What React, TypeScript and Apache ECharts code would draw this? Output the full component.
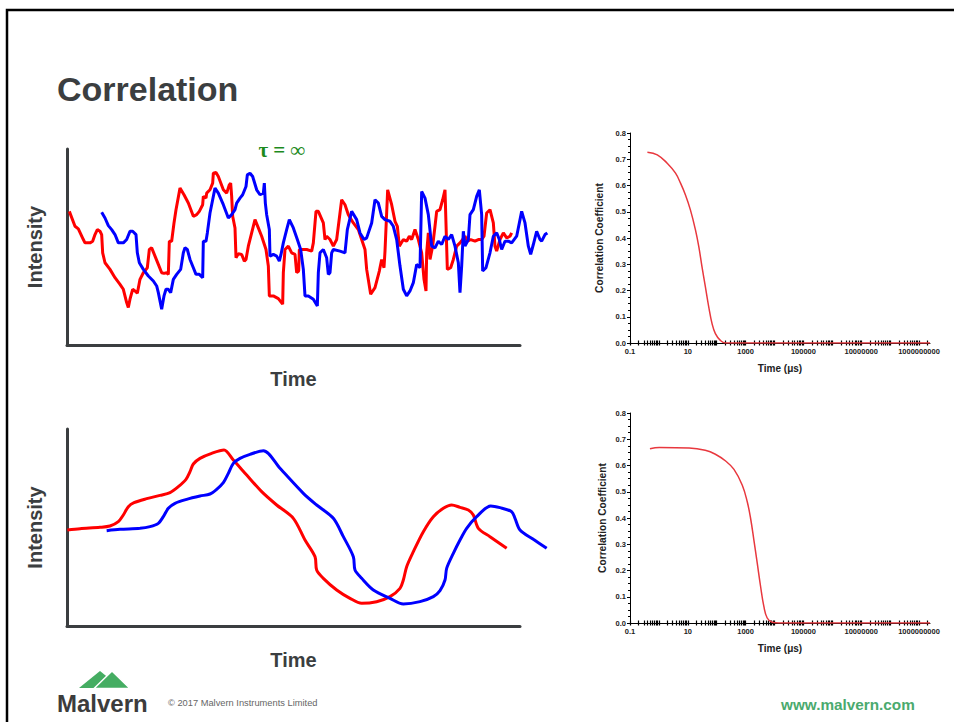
import React, { useEffect, useRef } from 'react';
import * as echarts from 'echarts';

// ---------- Intensity traces, fast fluctuation (top-left) ----------
const topRedTime = [7, 24, 34, 49, 54, 69, 77, 84, 91, 99, 104, 107, 114, 129, 144, 159, 169, 179, 184, 189, 197, 204, 211, 219, 229, 241, 247, 254, 264, 274, 284, 291, 299, 304, 307, 314, 321, 327, 339, 351, 364, 379, 389, 397, 407, 409, 417, 419, 429, 437, 439, 447, 454, 469, 479, 487, 491, 494, 497, 504, 507, 514, 524, 532, 537, 544, 554, 564, 574, 584, 597, 604, 607, 619, 634, 647, 649, 654, 664, 674, 684, 689, 695, 697, 719, 734, 739, 747, 754, 769, 774, 779, 789, 799, 809, 819, 824, 834, 844, 859, 874, 884, 894, 899, 911, 924, 937, 944, 951, 954, 962, 974, 984, 991, 997, 1009, 1019, 1027, 1034, 1044, 1054, 1064, 1071, 1077, 1079, 1084, 1089, 1097, 1104, 1109, 1119, 1127, 1134, 1141, 1151, 1159, 1169, 1179, 1187, 1194, 1201, 1211, 1224, 1234, 1244, 1251, 1259, 1269, 1279, 1284, 1289, 1299, 1309, 1319, 1329, 1334];
const topRedIntensity = [403, 358, 350, 318, 308, 308, 313, 333, 348, 343, 333, 278, 248, 228, 203, 183, 168, 128, 113, 138, 168, 163, 156, 198, 218, 233, 288, 293, 268, 243, 218, 216, 218, 213, 313, 313, 368, 408, 473, 453, 428, 388, 393, 403, 423, 448, 443, 458, 468, 488, 518, 520, 508, 468, 458, 483, 488, 448, 388, 353, 263, 275, 273, 253, 258, 298, 338, 378, 353, 328, 288, 238, 148, 148, 140, 123, 218, 288, 298, 278, 273, 218, 223, 288, 288, 283, 308, 403, 403, 368, 318, 328, 318, 298, 318, 398, 438, 423, 393, 368, 348, 318, 288, 228, 153, 173, 223, 258, 233, 283, 468, 423, 373, 358, 298, 318, 313, 328, 318, 348, 318, 278, 198, 163, 278, 338, 258, 298, 358, 403, 408, 438, 468, 228, 233, 258, 298, 308, 318, 328, 313, 318, 313, 318, 318, 328, 398, 408, 368, 298, 283, 318, 338, 323, 328, 338];

const topBlueTime = [104, 114, 124, 134, 144, 154, 169, 179, 189, 197, 207, 211, 217, 229, 244, 259, 269, 274, 284, 291, 297, 304, 311, 319, 329, 341, 349, 354, 361, 369, 379, 387, 397, 407, 409, 417, 421, 429, 437, 444, 454, 469, 484, 494, 504, 509, 519, 527, 537, 541, 549, 557, 569, 579, 589, 592, 595, 599, 607, 609, 619, 629, 637, 642, 649, 659, 667, 679, 691, 701, 709, 714, 724, 739, 751, 754, 759, 769, 779, 784, 789, 794, 799, 819, 834, 841, 854, 869, 879, 891, 899, 914, 924, 934, 944, 954, 969, 979, 989, 999, 1009, 1019, 1029, 1039, 1049, 1059, 1064, 1074, 1084, 1094, 1104, 1114, 1124, 1134, 1144, 1154, 1164, 1174, 1179, 1184, 1189, 1194, 1204, 1209, 1219, 1229, 1237, 1244, 1247, 1257, 1269, 1279, 1289, 1297, 1304, 1314, 1324, 1334, 1349, 1364, 1374, 1384, 1391, 1399, 1409, 1419, 1424, 1434, 1441];
const topBlueIntensity = [400, 383, 360, 348, 333, 308, 308, 318, 343, 343, 333, 278, 248, 228, 208, 193, 178, 158, 108, 148, 168, 168, 158, 198, 213, 228, 278, 293, 288, 258, 233, 213, 213, 203, 313, 313, 338, 398, 438, 473, 458, 423, 383, 393, 408, 428, 443, 453, 478, 513, 518, 508, 468, 453, 458, 488, 428, 393, 348, 268, 273, 268, 253, 273, 308, 348, 378, 353, 318, 288, 228, 148, 148, 138, 118, 218, 278, 288, 263, 213, 218, 278, 288, 283, 278, 348, 403, 378, 338, 318, 323, 368, 438, 428, 388, 378, 373, 358, 318, 238, 168, 148, 163, 188, 243, 233, 463, 443, 393, 298, 293, 313, 303, 328, 318, 333, 298, 248, 158, 238, 343, 298, 318, 393, 408, 448, 468, 393, 223, 233, 278, 328, 338, 318, 288, 313, 313, 308, 328, 403, 368, 298, 273, 303, 343, 318, 313, 333, 338];

// ---------- Intensity traces, slow fluctuation (bottom-left) ----------
const bottomRedTime = [1, 39, 99, 129, 154, 169, 184, 201, 239, 279, 309, 334, 357, 369, 379, 399, 434, 471, 499, 539, 584, 629, 679, 714, 744, 749, 769, 809, 849, 884, 929, 969, 999, 1009, 1019, 1039, 1069, 1099, 1129, 1154, 1179, 1204, 1219, 1234, 1269, 1319];
const bottomRedIntensity = [288, 292, 296, 300, 313, 333, 358, 370, 382, 392, 400, 418, 440, 463, 486, 503, 518, 528, 498, 453, 403, 363, 323, 258, 208, 168, 143, 108, 83, 68, 73, 88, 113, 138, 178, 223, 283, 328, 353, 363, 356, 348, 333, 293, 268, 233];

const bottomBlueTime = [119, 159, 219, 249, 274, 289, 304, 324, 359, 399, 429, 449, 469, 484, 499, 519, 549, 589, 639, 709, 749, 799, 829, 859, 864, 884, 919, 969, 1009, 1059, 1099, 1119, 1134, 1139, 1159, 1179, 1199, 1229, 1271, 1299, 1334, 1344, 1359, 1399, 1439];
const bottomBlueIntensity = [286, 290, 293, 298, 308, 328, 353, 368, 380, 390, 396, 410, 430, 458, 488, 503, 515, 526, 473, 398, 363, 323, 268, 208, 168, 143, 108, 83, 66, 73, 88, 106, 138, 173, 218, 258, 293, 328, 360, 355, 343, 323, 288, 260, 233];

// ---------- Correlograms (right) ----------
const fastDelayUs = [0.4, 0.88, 1.94, 3.76, 5.6, 8.3, 12.3, 18.4, 24, 31, 40.6, 53, 69, 90, 134, 199, 2.4e9];
const fastCoefficient = [0.727, 0.717, 0.685, 0.647, 0.609, 0.564, 0.507, 0.431, 0.367, 0.29, 0.214, 0.138, 0.074, 0.036, 0.01, 0, 0];

const slowDelayUs = [0.49, 1.03, 11.1, 40, 90, 204, 396, 768, 1140, 1480, 1940, 2520, 3290, 4280, 5580, 8300, 14000, 2.4e9];
const slowCoefficient = [0.664, 0.669, 0.667, 0.658, 0.643, 0.617, 0.585, 0.525, 0.462, 0.4, 0.315, 0.229, 0.14, 0.063, 0.019, 0.003, 0, 0];

const xTickExponents = [-1, 1, 3, 5, 7, 9];
const xTickLabels = ['0.1', '10', '1000', '100000', '10000000', '1000000000'];
const LOG_MIN = -1;
const LOG_MAX = 9.38;

const FONT = '"Liberation Sans", Arial, Helvetica, sans-serif';
const DARK = '#3b3e40';

const zip = (xs: number[], ys: number[]) => xs.map((x, i) => [x, ys[i]]);
const logZip = (ts: number[], ys: number[]) => ts.map((t, i) => [Math.log10(t), ys[i]]);

const minorLogTicks: number[] = [];
for (let n = -1; n <= 9; n++) {
  for (let k = 1; k <= 9; k++) {
    const v = n + Math.log10(k);
    if (v <= LOG_MAX) minorLogTicks.push(v);
  }
}

// hidden x axis that carries the traces (wider than the drawn axis line)
function traceX(grid: number) {
  return { gridIndex: grid, type: 'value', min: 0, max: 1449, show: false };
}
// drawn "Time" axis line
function timeLineX(grid: number) {
  return {
    gridIndex: grid,
    type: 'value',
    min: 0,
    max: 1359,
    position: 'bottom',
    axisLine: { show: true, onZero: false, lineStyle: { color: DARK, width: 3 } },
    axisTick: { show: false },
    axisLabel: { show: false },
    splitLine: { show: false },
    name: 'Time',
    nameLocation: 'middle',
    nameGap: 24,
    nameTextStyle: { fontSize: 20, fontWeight: 'bold', color: DARK, fontFamily: FONT },
  };
}
function intensityY(grid: number) {
  return {
    gridIndex: grid,
    type: 'value',
    min: 0,
    max: 591,
    axisLine: { show: true, onZero: false, lineStyle: { color: DARK, width: 3 } },
    axisTick: { show: false },
    axisLabel: { show: false },
    splitLine: { show: false },
    name: 'Intensity',
    nameLocation: 'middle',
    nameGap: 22,
    nameRotate: 90,
    nameTextStyle: { fontSize: 20, fontWeight: 'bold', color: DARK, fontFamily: FONT },
  };
}
function hiddenY(grid: number) {
  return { gridIndex: grid, type: 'value', min: 0, max: 1, show: false };
}
function logX(grid: number) {
  return {
    gridIndex: grid,
    type: 'value',
    min: LOG_MIN,
    max: LOG_MAX,
    position: 'bottom',
    axisLine: { show: true, onZero: false, lineStyle: { color: '#000', width: 1 } },
    axisTick: { show: true, customValues: minorLogTicks, length: 2.5, lineStyle: { color: '#000', width: 1.2 } },
    axisLabel: {
      show: true,
      customValues: xTickExponents,
      formatter: (v: number) => {
        const i = xTickExponents.indexOf(Math.round(v));
        return i >= 0 ? xTickLabels[i] : '';
      },
      fontSize: 7.5,
      fontWeight: 'bold',
      color: '#222',
      margin: 4,
      fontFamily: FONT,
    },
    splitLine: { show: false },
    name: 'Time (μs)',
    nameLocation: 'middle',
    nameGap: 20,
    nameTextStyle: { fontSize: 10, fontWeight: 'bold', color: '#222', fontFamily: FONT },
  };
}
function logXInside(grid: number) {
  return {
    gridIndex: grid,
    type: 'value',
    min: LOG_MIN,
    max: LOG_MAX,
    position: 'bottom',
    axisLine: { show: false, onZero: false },
    axisTick: { show: true, inside: true, customValues: minorLogTicks, length: 2.5, lineStyle: { color: '#000', width: 1.2 } },
    axisLabel: { show: false },
    splitLine: { show: false },
  };
}
function coefY(grid: number, gap: number) {
  return {
    gridIndex: grid,
    type: 'value',
    min: 0,
    max: 0.8,
    interval: 0.1,
    axisLine: { show: true, onZero: false, lineStyle: { color: '#000', width: 1 } },
    axisTick: { show: true, length: 3, lineStyle: { color: '#000' } },
    minorTick: { show: true, splitNumber: 4, length: 2, lineStyle: { color: '#000' } },
    axisLabel: {
      formatter: (v: number) => v.toFixed(1),
      fontSize: 7.5,
      fontWeight: 'bold',
      color: '#222',
      margin: 4,
      fontFamily: FONT,
    },
    splitLine: { show: false },
    name: 'Correlation Coefficient',
    nameLocation: 'middle',
    nameGap: gap,
    nameRotate: 90,
    nameTextStyle: { fontSize: 10.2, fontWeight: 'bold', color: '#222', fontFamily: FONT },
  };
}

function text(x: number, y: number, str: string, font: Record<string, any>, align = 'left') {
  return {
    type: 'text',
    x,
    y,
    silent: true,
    style: {
      text: str,
      align,
      textAlign: align,
      verticalAlign: 'middle',
      textVerticalAlign: 'middle',
      ...font,
    },
  };
}

export default function App() {
  const ref = useRef<HTMLDivElement>(null);
  useEffect(() => {
    if (!ref.current) return;
    const chart = echarts.init(ref.current, undefined, { renderer: 'svg' });
    const option: any = {
      animation: false,
      backgroundColor: '#fff',
      grid: [
        { left: 67, top: 149, width: 483, height: 196 },
        { left: 67, top: 429, width: 483, height: 197 },
        { left: 630, top: 133, width: 300, height: 210 },
        { left: 630, top: 413, width: 300, height: 210 },
        { left: 67, top: 149, width: 453, height: 196 },
        { left: 67, top: 429, width: 453, height: 197 },
      ],
      xAxis: [
        traceX(0), traceX(1),
        logX(2), logXInside(2), logX(3), logXInside(3),
        timeLineX(4), timeLineX(5),
      ],
      yAxis: [intensityY(0), intensityY(1), coefY(2, 26), coefY(3, 23), hiddenY(4), hiddenY(5)],
      series: [
        {
          type: 'line', xAxisIndex: 0, yAxisIndex: 0, showSymbol: false,
          data: zip(topRedTime, topRedIntensity), lineStyle: { color: '#ff0000', width: 3 }, itemStyle: { color: '#ff0000' },
        },
        {
          type: 'line', xAxisIndex: 0, yAxisIndex: 0, showSymbol: false,
          data: zip(topBlueTime, topBlueIntensity), lineStyle: { color: '#0000ff', width: 3 }, itemStyle: { color: '#0000ff' },
        },
        {
          type: 'line', xAxisIndex: 1, yAxisIndex: 1, showSymbol: false, smooth: 0.3,
          data: zip(bottomRedTime, bottomRedIntensity), lineStyle: { color: '#ff0000', width: 3 }, itemStyle: { color: '#ff0000' },
        },
        {
          type: 'line', xAxisIndex: 1, yAxisIndex: 1, showSymbol: false, smooth: 0.3,
          data: zip(bottomBlueTime, bottomBlueIntensity), lineStyle: { color: '#0000ff', width: 3 }, itemStyle: { color: '#0000ff' },
        },
        {
          type: 'line', xAxisIndex: 2, yAxisIndex: 2, showSymbol: false, smooth: 0.4,
          data: logZip(fastDelayUs, fastCoefficient), lineStyle: { color: '#e8383e', width: 1.5 }, itemStyle: { color: '#e8383e' },
        },
        {
          type: 'line', xAxisIndex: 4, yAxisIndex: 3, showSymbol: false, smooth: 0.4,
          data: logZip(slowDelayUs, slowCoefficient), lineStyle: { color: '#e8383e', width: 1.5 }, itemStyle: { color: '#e8383e' },
        },
      ],
      graphic: [
        {
          type: 'polyline', silent: true,
          shape: { points: [[7, 740], [7, 10], [960, 10]] },
          style: { stroke: '#000', lineWidth: 2.5, fill: 'none' },
        },
        text(57, 89, 'Correlation', { fontSize: 34, fontWeight: 'bold', fontFamily: FONT, fill: DARK }),
        text(282, 150, 'τ = ∞', { fontSize: 21, fontWeight: 'bold', fontFamily: '"Liberation Serif", "DejaVu Serif", serif', fill: '#1d8a1d' }, 'center'),
        {
          type: 'polygon', silent: true,
          shape: { points: [[79, 688], [100, 671], [121, 688]] },
          style: { fill: '#45ad62' },
        },
        {
          type: 'polygon', silent: true,
          shape: { points: [[94, 688.5], [112, 671], [130, 688.5]] },
          style: { fill: '#45ad62', stroke: '#fff', lineWidth: 1.5 },
        },
        text(57, 703, 'Malvern', { fontSize: 24, fontWeight: 'bold', fontFamily: FONT, fill: '#3c3c3c' }),
        text(168, 703, '© 2017 Malvern Instruments Limited', { fontSize: 9.3, fontFamily: FONT, fill: '#666' }),
        text(781, 704, 'www.malvern.com', { fontSize: 15.3, fontWeight: 'bold', fontFamily: FONT, fill: '#4aaa6e' }),
      ],
    };
    chart.setOption(option);
    return () => chart.dispose();
  }, []);
  return (
    <div
      ref={ref}
      style={{ position: 'absolute', left: 0, top: 0, width: 954, height: 722, background: '#fff' }}
    />
  );
}
